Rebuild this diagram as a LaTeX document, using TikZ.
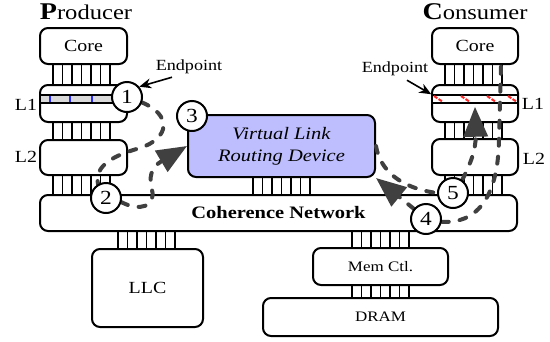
\documentclass[tikz,border=0pt]{standalone}
\usepackage{fontspec}
\setmainfont[FakeStretch=1.17]{Liberation Serif}
\usetikzlibrary{arrows.meta,calc}
\pgfdeclarelayer{front}
\pgfsetlayers{main,front}
\definecolor{flowgray}{RGB}{64,64,64}
\definecolor{vlrdfill}{RGB}{190,190,255}
\definecolor{stripgray}{RGB}{217,217,217}
\definecolor{tickblue}{RGB}{40,40,255}
\definecolor{hatchred}{RGB}{255,40,40}
% seven parallel wires between two stacked blocks: left x, top y, bottom y
\newcommand\busbar[3]{%
  \foreach \k in {0,...,6}{\draw[wire] ({#1+9.5*\k},#2) -- ({#1+9.5*\k},#3);}}
\begin{document}
\begin{tikzpicture}[x=1pt,y=-1pt,
  box/.style={draw, line width=2pt, rounded corners=8pt, inner sep=0pt},
  lbl/.style={font=\fontsize{17}{20}\selectfont},
  small/.style={font=\fontsize{14.5}{16}\selectfont},
  wire/.style={line width=1.8pt},
  strip/.style={draw, line width=1.5pt, inner sep=0pt, minimum width=86pt, minimum height=8pt},
  tag/.style={circle, draw, line width=2pt, fill=white, minimum size=30pt, inner sep=0pt,
              font=\fontsize{20}{20}\selectfont},
  flow/.style={draw=flowgray, line width=4pt, line cap=round, dash pattern=on 7pt off 11pt},
  head/.style={-{Triangle[length=30pt,width=24pt]}},
  ptr/.style={line width=1.6pt, -{Stealth[length=12pt,width=10pt]}}
]
\useasboundingbox (0,0) rectangle (550,341);
\fill[white] (0,0) rectangle (550,341);

% ---------- titles ----------
\node[anchor=base, inner sep=0pt] (prod) at (86,19)
  {{\fontsize{24}{24}\selectfont\bfseries P}{\fontsize{21}{21}\selectfont roducer}};
\node[anchor=base, inner sep=0pt] (cons) at (475,19)
  {{\fontsize{24}{24}\selectfont\bfseries C}{\fontsize{21}{21}\selectfont onsumer}};

% ---------- producer stack ----------
\node[box, lbl, minimum width=87pt, minimum height=36pt] (pcore) at (83.5,46) {Core};
\busbar{53}{64}{85}
\node[box, minimum width=87pt, minimum height=37pt] (pl1) at (83.5,103.5) {};
\node[strip, fill=stripgray, minimum width=87pt] (pstrip) at (83.5,99) {};
\foreach \t in {50,70,92,113}
  \draw[tickblue, line width=1.6pt] (\t,96) -- (\t,102);
\busbar{53}{122}{140}
\node[box, minimum width=87pt, minimum height=35pt] (pl2) at (83.5,157.5) {};
\busbar{53}{175}{195}
\node[lbl] (pl1lbl) at (26,105) {L1};
\node[lbl] (pl2lbl) at (26,157) {L2};

% ---------- consumer stack ----------
\node[box, lbl, minimum width=86pt, minimum height=36pt] (ccore) at (475,46) {Core};
\busbar{445}{64}{85}
\node[box, minimum width=86pt, minimum height=37pt] (cl1) at (475,103.5) {};
\node[strip, fill=white] (cstrip) at (475,99) {};
\foreach \t in {434,461,487,508}
  \draw[hatchred, line width=2pt, dash pattern=on 4pt off 1.5pt] (\t,96) -- (\t+9,102);
\busbar{445}{122}{139}
\node[box, minimum width=86pt, minimum height=36pt] (cl2) at (475,157) {};
\busbar{445}{175}{195}
\node[lbl] (cl1lbl) at (533,104) {L1};
\node[lbl] (cl2lbl) at (534,159) {L2};

% ---------- routing device and network ----------
\node[box, fill=vlrdfill, minimum width=187pt, minimum height=62pt, align=center,
      font=\fontsize{17.5}{22}\selectfont\itshape] (vlrd) at (281.5,146)
  {Virtual Link\\Routing Device};
\busbar{253}{177}{195}
\node[box, minimum width=477pt, minimum height=36pt,
      font=\fontsize{17.5}{20}\selectfont\bfseries] (net) at (278.5,213) {Coherence Network};

% ---------- memory side ----------
\busbar{118}{231}{249}
\node[box, lbl, minimum width=111pt, minimum height=78pt] (llc) at (147.5,288) {LLC};
\busbar{352}{231}{248}
\node[box, small, minimum width=135pt, minimum height=37pt] (mem) at (380.5,266.5) {Mem Ctl.};
\busbar{352}{285}{298}
\node[box, small, minimum width=235pt, minimum height=38pt] (dram) at (380.5,317) {DRAM};

% ---------- numbered steps ----------
\begin{pgfonlayer}{front}
  \node[tag] (c1) at (127,97) {1};
  \node[tag] (c2) at (106,198) {2};
  \node[tag] (c3) at (192,116) {3};
  \node[tag] (c4) at (426,219) {4};
  \node[tag] (c5) at (453,193) {5};
\end{pgfonlayer}

% ---------- endpoint markers ----------
\node[inner sep=0pt, font=\fontsize{15.5}{17}\selectfont] (ep1) at (189,67) {Endpoint};
\node[inner sep=0pt, font=\fontsize{15.5}{17}\selectfont] (ep2) at (395,69) {Endpoint};
\draw[ptr] ($(ep1.south)+(-17,3)$) -- (c1.40);
\draw[ptr] ($(ep2.south)+(12,4)$) -- (cstrip.north west);

% ---------- message path ----------
\coordinate (cend) at ($(ccore.south east)+(-18,0)$);
\coordinate (ctip) at ($(cstrip.south)+(0,3)$);
\draw[flow] (c1.-20) .. controls (172,115) and (170,138) .. (140,148)
            .. controls (115,155) and (94,165) .. (c2.120);
\draw[flow, head] (c2.-15) .. controls (140,212) and (156,206) .. (152,190)
            .. controls (149,178) and (150,168) .. (vlrd.west);
\draw[flow, head] (c4.140) -- (vlrd.south east);
\draw[flow] (vlrd.east) .. controls (380,170) and (400,188) .. (c5.west);
\draw[flow] (c4.-10) .. controls (475,224) and (498,200) .. (499,140) -- (cend);
\draw[flow, head] (c5.55) .. controls (470,165) and (476,150) .. (ctip);
\end{tikzpicture}
\end{document}
